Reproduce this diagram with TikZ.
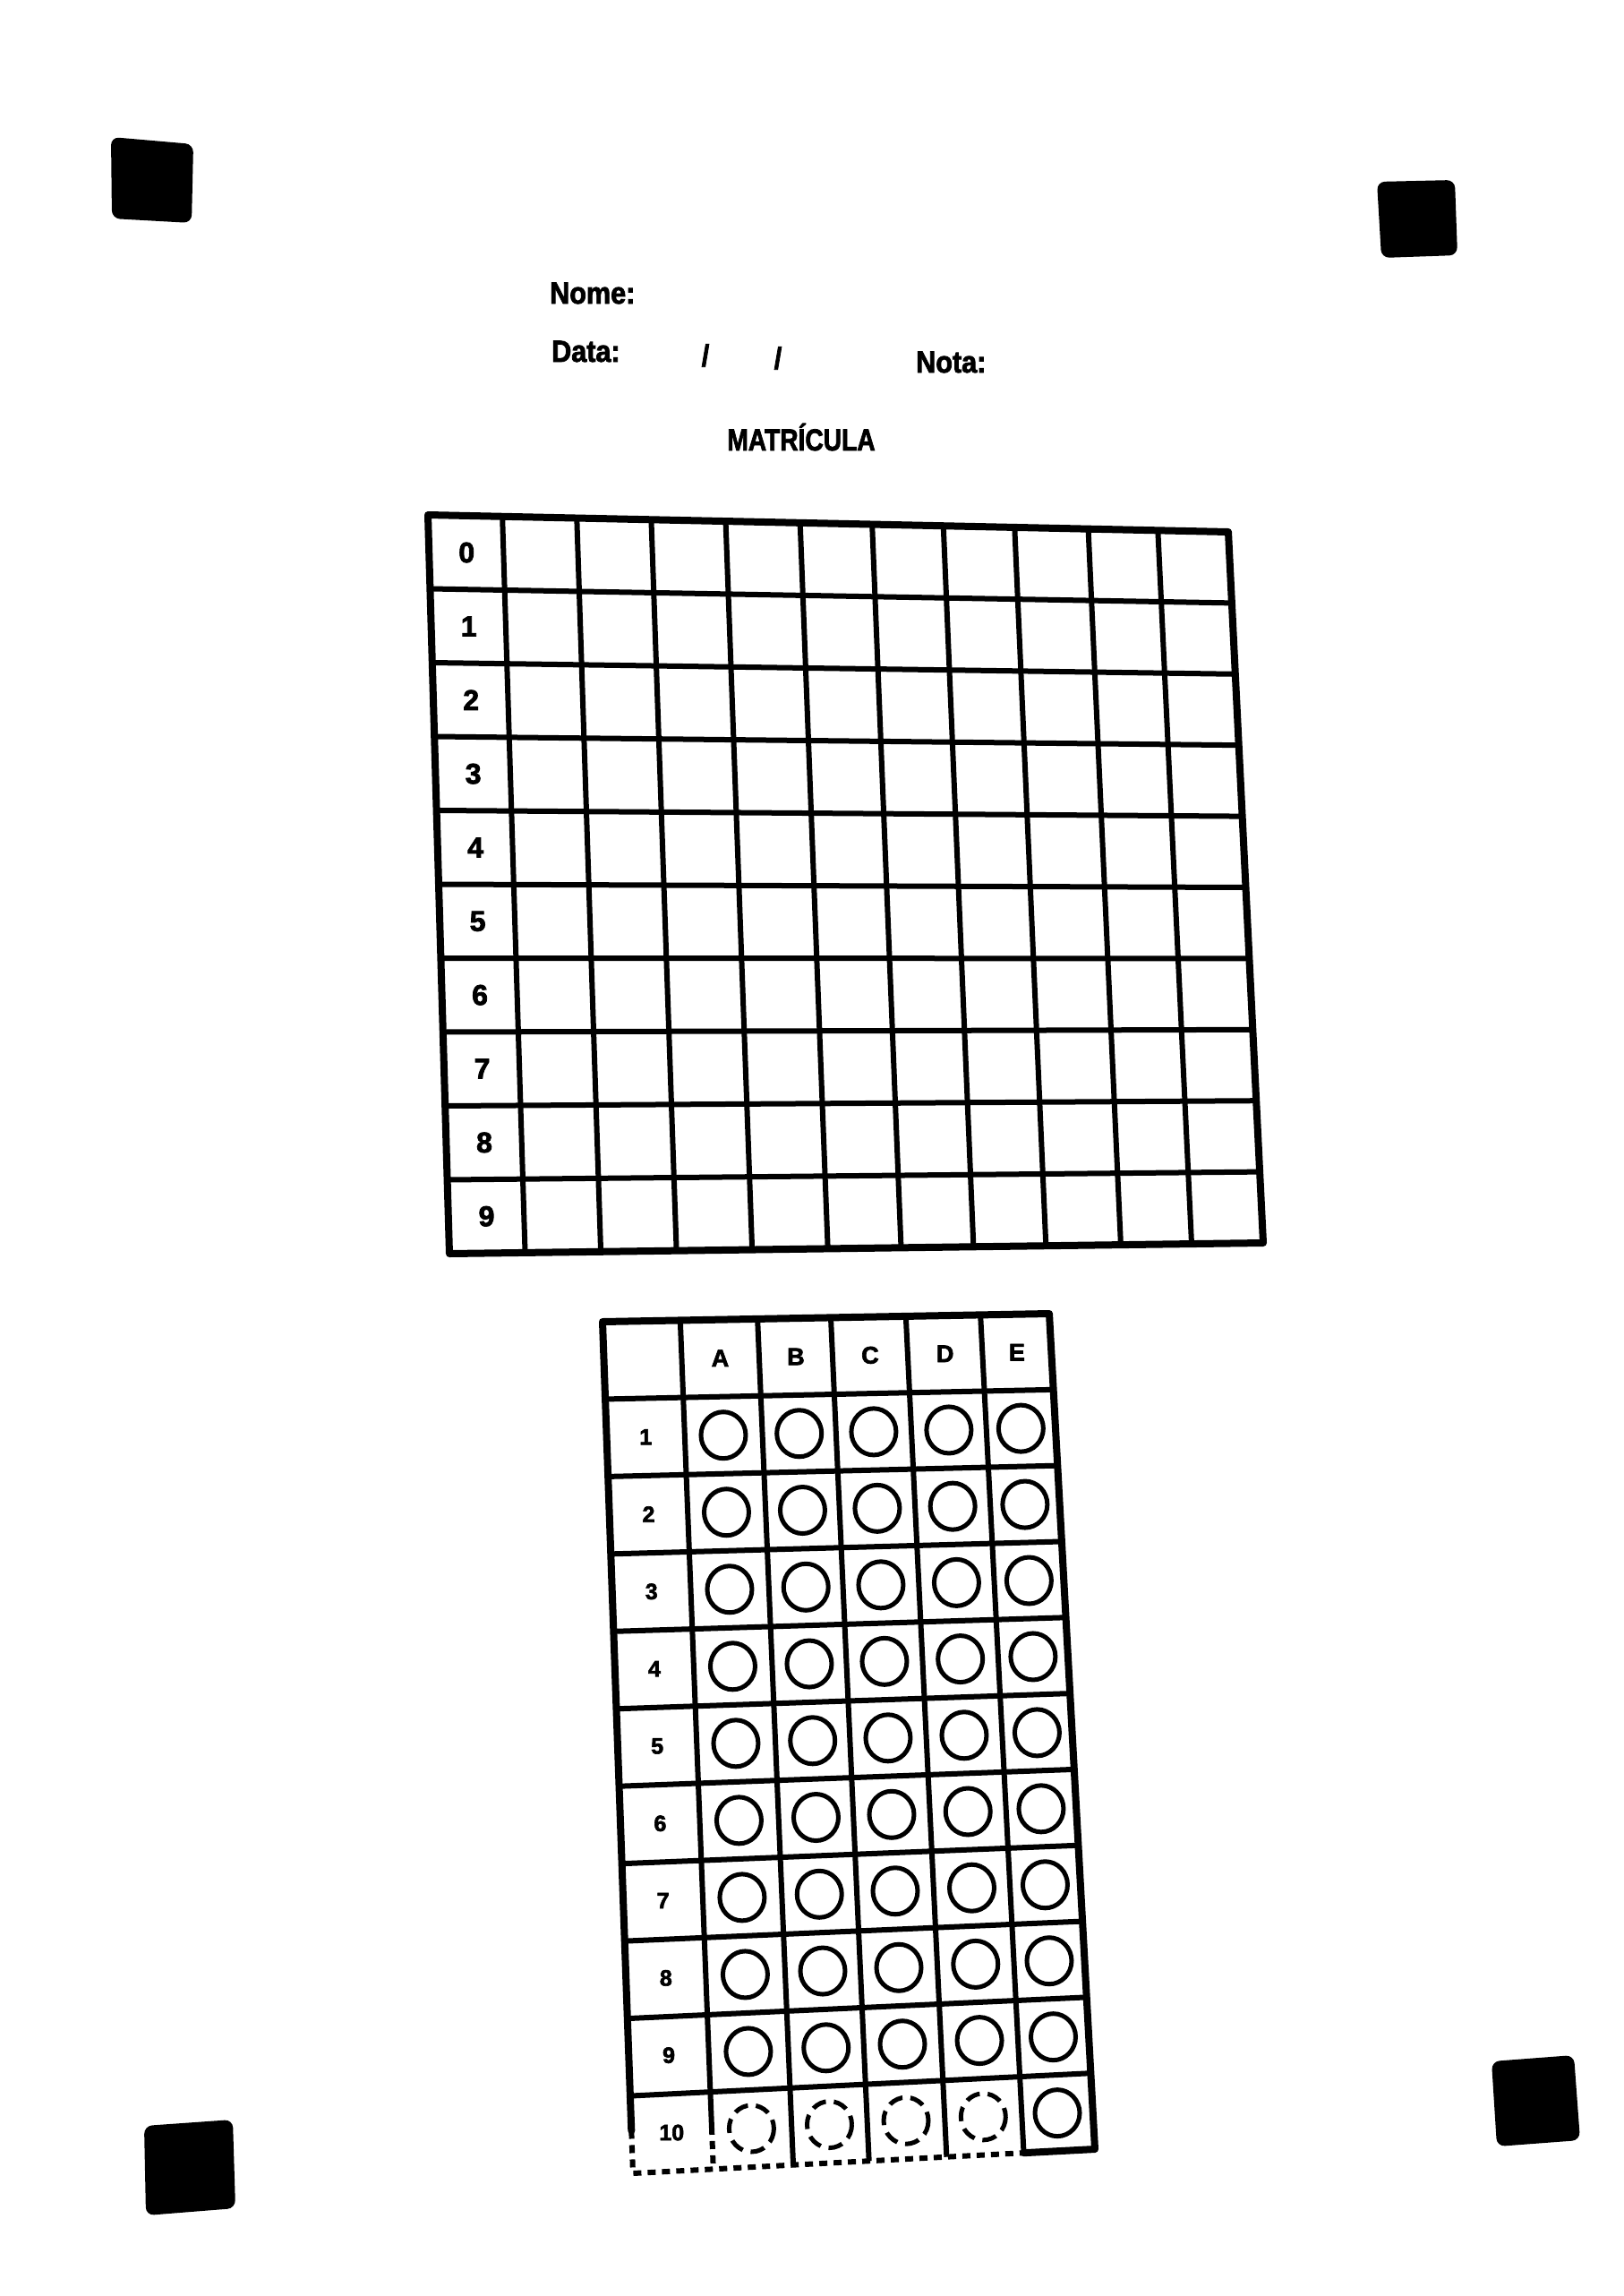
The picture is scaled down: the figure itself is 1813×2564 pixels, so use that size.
\documentclass[tikz,border=0pt]{standalone}
\usepackage{fontspec}
\setmainfont{Liberation Sans}[BoldFeatures={FakeBold=2.5}]
\usetikzlibrary{calc}
\begin{document}
\begin{tikzpicture}[x=1pt,y=-1pt,
  gridline/.style={line width=6pt},
  frame/.style={line width=8pt,line join=round,line cap=round},
  faded/.style={line width=6pt,dash pattern=on 9pt off 7pt},
  marker/.style={fill=black,rounded corners=9pt},
  hdr/.style={font=\bfseries\fontsize{34}{40}\selectfont,inner sep=0pt,xscale=0.9},
  digit/.style={font=\bfseries\fontsize{32}{38}\selectfont,inner sep=0pt},
  letter/.style={font=\bfseries\fontsize{27}{32}\selectfont,inner sep=0pt},
  rownum/.style={font=\bfseries\fontsize{25}{30}\selectfont,inner sep=0pt},
  bubble/.style={line width=5pt},
  fbubble/.style={line width=5pt,dash pattern=on 16pt off 9pt}]
\useasboundingbox (0,0) rectangle (1813,2564);
\fill[white] (0,0) rectangle (1813,2564);

% corner markers
\fill[marker] (124,153) -- (216,161) -- (214,249) -- (125,244) -- cycle;
\fill[marker] (1538,203) -- (1625,201) -- (1628,285) -- (1543,288) -- cycle;
\fill[marker] (161,2374) -- (260,2367) -- (263,2466) -- (163,2474) -- cycle;
\fill[marker] (1666,2302) -- (1758,2295) -- (1765,2390) -- (1672,2397) -- cycle;

% header texts
\node[hdr,anchor=base west] (nome) at (614,339) {Nome:};
\node[hdr,anchor=base west] (data) at (616,404) {Data:};
\node[hdr,anchor=base] (s1) at (788,409) {/};
\node[hdr,anchor=base] (s2) at (869,412) {/};
\node[hdr,anchor=base west] (nota) at (1023,416) {Nota:};
\node[hdr,anchor=base,xscale=0.92] (mat) at (895,503) {MATRÍCULA};

% ---------- matricula grid ----------
\coordinate (A1) at (478,575);
\coordinate (A2) at (1372,594);
\coordinate (A3) at (502,1400);
\coordinate (A4) at (1411,1388);
\foreach \i in {1,...,9}{
  \pgfmathsetmacro\v{\i/10}
  \draw[gridline] ($(A1)!\v!(A3)$) -- ($(A2)!\v!(A4)$);
}
\foreach \u in {0.093,0.186,0.279,0.372,0.465,0.555,0.644,0.733,0.825,0.912}{
  \draw[gridline] ($(A1)!\u!(A2)$) -- ($(A3)!\u!(A4)$);
}
\draw[frame] (A1) -- (A2) -- (A4) -- (A3) -- cycle;
\foreach \i in {0,...,9}{
  \pgfmathsetmacro\v{(\i+0.5)/10}
  \coordinate (L) at ($(A1)!\v!(A3)$);
  \coordinate (R) at ($(A2)!\v!(A4)$);
  \node[digit] (d\i) at ($(L)!0.047!(R)$) {\i};
}

% ---------- answer grid ----------
\coordinate (B1) at (673,1476);
\coordinate (B2) at (1172,1467);
\coordinate (B3) at (707,2427);
\coordinate (B4) at (1223,2400);
\foreach \i in {1,...,10}{
  \pgfmathsetmacro\v{\i/11}
  \draw[gridline] ($(B1)!\v!(B3)$) -- ($(B2)!\v!(B4)$);
}
% vertical inner lines
\pgfmathsetmacro\vcut{10.45/11}
\coordinate (C1t) at ($(B1)!0.174!(B2)$);
\coordinate (C1b) at ($(B3)!0.174!(B4)$);
\draw[gridline] (C1t) -- ($(C1t)!\vcut!(C1b)$);
\draw[faded] ($(C1t)!\vcut!(C1b)$) -- (C1b);
\foreach \u in {0.347,0.511,0.679,0.846}{
  \draw[gridline] ($(B1)!\u!(B2)$) -- ($(B3)!\u!(B4)$);
}
% border
\coordinate (E0) at ($(B3)!0.846!(B4)$);
\coordinate (Lc) at ($(B1)!\vcut!(B3)$);
\draw[frame] (Lc) -- (B1) -- (B2) -- (B4) -- (E0);
\draw[faded] (Lc) -- (B3) -- (E0);

% header letters and bubbles
\foreach \c/\lab in {0.260/A,0.429/B,0.595/C,0.7625/D,0.923/E}{
  \pgfmathsetmacro\v{0.5/11}
  \coordinate (L) at ($(B1)!\v!(B3)$);
  \coordinate (R) at ($(B2)!\v!(B4)$);
  \node[letter] (h\lab) at ($(L)!\c!(R)$) {\lab};
}
\foreach \r in {1,...,10}{
  \pgfmathsetmacro\v{(\r+0.5)/11}
  \coordinate (L) at ($(B1)!\v!(B3)$);
  \coordinate (R) at ($(B2)!\v!(B4)$);
  \node[rownum] (n\r) at ($(L)!0.087!(R)$) {\r};
  \foreach \c/\lab in {0.260/A,0.429/B,0.595/C,0.7625/D,0.923/E}{
    \coordinate (o\r\lab) at ($(L)!\c!(R)$);
  }
}
\foreach \r in {1,...,9}{
  \foreach \lab in {A,B,C,D,E}{
    \draw[bubble] (o\r\lab) ellipse [x radius=25, y radius=26];
  }
}
\foreach \lab in {A,B,C,D}{
  \draw[fbubble] (o10\lab) ellipse [x radius=25, y radius=26];
}
\draw[bubble] (o10E) ellipse [x radius=25, y radius=26];
\end{tikzpicture}
\end{document}
